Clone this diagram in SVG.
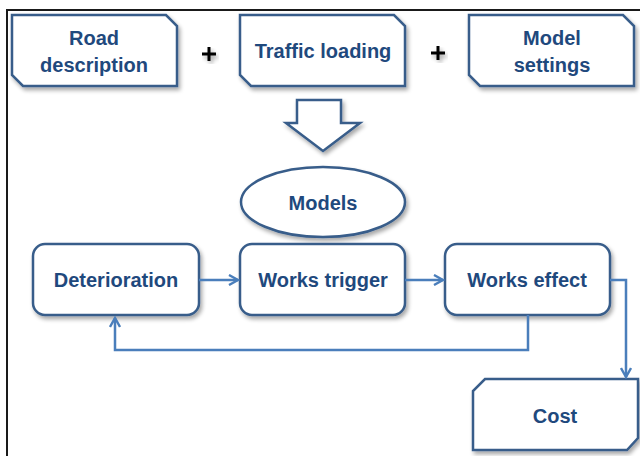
<svg xmlns="http://www.w3.org/2000/svg" width="640" height="456" viewBox="0 0 640 456">
<defs>
<filter id="sh" x="-10%" y="-10%" width="125%" height="130%">
<feGaussianBlur in="SourceAlpha" stdDeviation="2"/>
<feOffset dx="2" dy="3" result="b"/>
<feComponentTransfer><feFuncA type="linear" slope="0.35"/></feComponentTransfer>
<feMerge><feMergeNode/><feMergeNode in="SourceGraphic"/></feMerge>
</filter>
<marker id="ah" viewBox="0 0 12 12" refX="10" refY="6" markerWidth="12" markerHeight="12" markerUnits="userSpaceOnUse" orient="auto">
<path d="M1,1 L10,6 L1,11" fill="none" stroke="#4a7ebb" stroke-width="2.4"/>
</marker>
</defs>
<style>
.box{fill:#fff;stroke:#385d8a;stroke-width:2.5;filter:url(#sh)}
.t{font-family:"Liberation Sans",Arial,sans-serif;font-weight:bold;font-size:20px;fill:#1f497d;text-anchor:middle}
.c{fill:none;stroke:#4a7ebb;stroke-width:2.5}
.plus{stroke:#000;stroke-width:3;filter:url(#sh)}
</style>
<rect width="640" height="456" fill="#fff"/>
<path d="M7,460 L7,10 L645,10" fill="none" stroke="#1a1a1a" stroke-width="2"/>

<g id="road">
<path class="box" d="M12,15 L166,15 L177,26 L177,86 L23,86 L12,75 Z"/>
<text class="t" x="94" y="45">Road</text>
<text class="t" x="94" y="72">description</text>
</g>
<g id="plus1"><path class="plus" d="M202,54 H216 M209,47 V61"/></g>
<g id="traffic">
<path class="box" d="M240,15 L394,15 L405,26 L405,86 L251,86 L240,75 Z"/>
<text class="t" x="323" y="58">Traffic loading</text>
</g>
<g id="plus2"><path class="plus" d="M431,53 H445 M438,46 V60"/></g>
<g id="settings">
<path class="box" d="M469,15 L623,15 L634,26 L634,86 L480,86 L469,75 Z"/>
<text class="t" x="552" y="45">Model</text>
<text class="t" x="552" y="72">settings</text>
</g>

<g id="bigarrow">
<path class="box" d="M297,100 L341,100 L341,123 L360,123 L323,151 L286,123 L297,123 Z"/>
</g>
<g id="models">
<ellipse class="box" cx="323" cy="202" rx="82" ry="35"/>
<text class="t" x="323" y="210">Models</text>
</g>

<g id="deterioration">
<rect class="box" x="33" y="244" width="166" height="71" rx="12"/>
<text class="t" x="116" y="287">Deterioration</text>
</g>
<g id="trigger">
<rect class="box" x="240" y="244" width="165" height="71" rx="12"/>
<text class="t" x="323" y="287">Works trigger</text>
</g>
<g id="effect">
<rect class="box" x="445" y="244" width="165" height="71" rx="12"/>
<text class="t" x="527" y="287">Works effect</text>
</g>
<g id="cost">
<path class="box" d="M485,379 L638,379 L638,438 L627,450 L473,450 L473,391 Z"/>
<text class="t" x="555" y="423">Cost</text>
</g>

<g id="connectors">
<path class="c" d="M199,280 L238,280" marker-end="url(#ah)"/>
<path class="c" d="M405,280 L443,280" marker-end="url(#ah)"/>
<path class="c" d="M528,315 L528,350 L115,350 L115,318" marker-end="url(#ah)"/>
<path class="c" d="M610,280 L626,280 L626,377" marker-end="url(#ah)"/>
</g>
</svg>
